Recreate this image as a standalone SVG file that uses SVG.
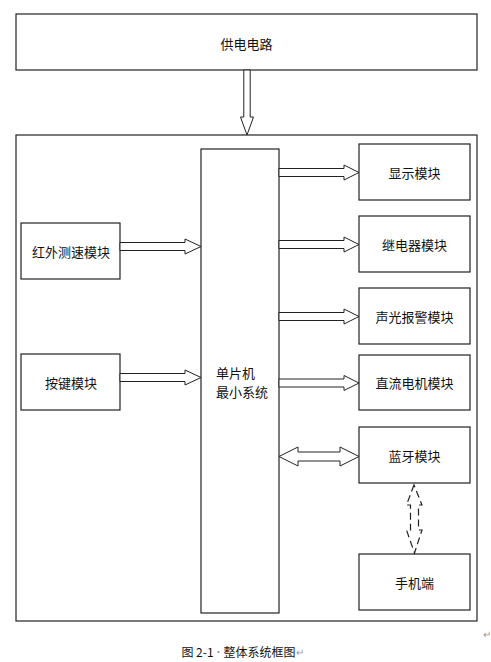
<svg xmlns="http://www.w3.org/2000/svg" width="491" height="662" viewBox="0 0 491 662">
<style>
.box{fill:#fff;stroke:#222;stroke-width:1.2}
.arr{fill:#fff;stroke:#222;stroke-width:1}
.dash{fill:none;stroke:#222;stroke-width:1.2;stroke-dasharray:7,4}
text{font-family:"Noto Sans CJK SC","Noto Sans",sans-serif;font-size:13px;fill:#111;text-anchor:middle;dominant-baseline:central}
.cap{font-size:12px}
.mark{fill:#999;font-size:10px}
</style>
<rect width="491" height="662" fill="#fff"/>
<g id="power"><rect class="box" x="16" y="14" width="461" height="56"/><text x="246.5" y="43">供电电路</text></g>
<g id="system"><rect class="box" x="16" y="135" width="461" height="486"/></g>
<g id="mcu"><rect class="box" x="201" y="149" width="78" height="464"/><text x="216" y="372" style="text-anchor:start">单片机</text><text x="216" y="391" style="text-anchor:start">最小系统</text></g>
<g id="ir"><rect class="box" x="21" y="223" width="99" height="56"/><text x="71" y="251">红外测速模块</text></g>
<g id="key"><rect class="box" x="21" y="354" width="99" height="56"/><text x="71" y="382">按键模块</text></g>
<g id="display"><rect class="box" x="359" y="144" width="111" height="56"/><text x="414.5" y="172">显示模块</text></g>
<g id="relay"><rect class="box" x="359" y="216" width="111" height="56"/><text x="414.5" y="244">继电器模块</text></g>
<g id="alarm"><rect class="box" x="359" y="288" width="111" height="56"/><text x="414.5" y="316">声光报警模块</text></g>
<g id="motor"><rect class="box" x="359" y="355" width="111" height="55"/><text x="414.5" y="382.5">直流电机模块</text></g>
<g id="bt"><rect class="box" x="359" y="427" width="111" height="56"/><text x="414.5" y="455">蓝牙模块</text></g>
<g id="phone"><rect class="box" x="359" y="554" width="111" height="56"/><text x="414.5" y="582">手机端</text></g>
<g id="connectors">
<path class="arr" d="M243.8,70 V117 H240.5 L247,135 L253.5,117 H250.2 V70 Z"/>
<path class="arr" d="M279,168.5 H344 V165 L359,172.5 L344,180 V176.5 H279 Z"/>
<path class="arr" d="M279,240.5 H344 V237 L359,244.5 L344,252 V248.5 H279 Z"/>
<path class="arr" d="M279,312.5 H344 V309 L359,316.5 L344,324 V320.5 H279 Z"/>
<path class="arr" d="M279,379 H344 V375.5 L359,383 L344,390.5 V387 H279 Z"/>
<path class="arr" d="M120,242.5 H185 V239 L201,246.5 L185,254 V250.5 H120 Z"/>
<path class="arr" d="M120,373.5 H185 V370 L201,377.5 L185,385 V381.5 H120 Z"/>
<path class="arr" d="M279,456.5 L298,447 V452 H340 V447 L359,456.5 L340,466 V461 H298 V466 Z"/>
<path class="dash" d="M414,485 L406.5,505 H410.5 V530 H406.5 L414.5,553 L422,530 H418.5 V505 H422 Z"/>
</g>
<text class="cap" x="242.5" y="651">图 2-1<tspan class="mark">·</tspan>整体系统框图<tspan class="mark">↵</tspan></text>
<text class="mark" x="487" y="633">↵</text>
</svg>
